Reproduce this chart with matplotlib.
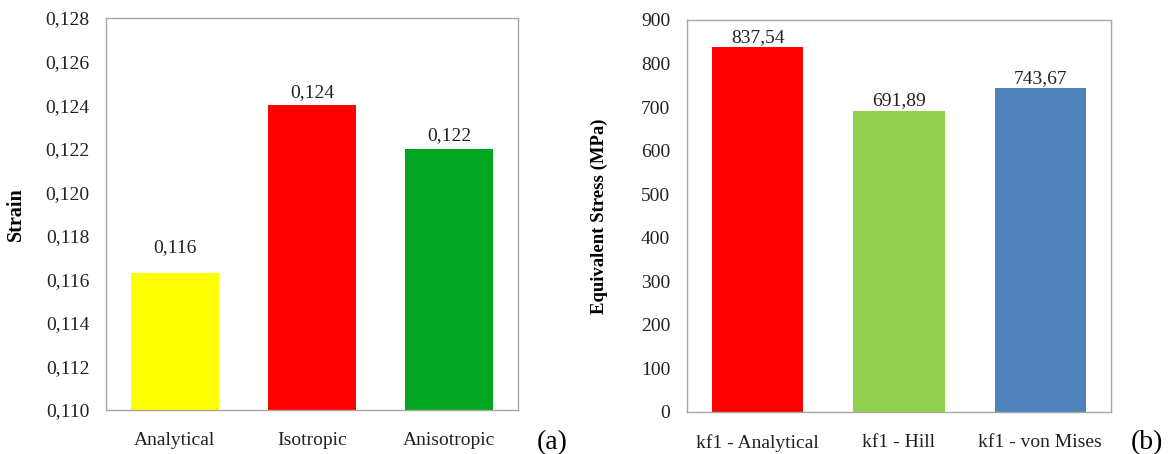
import numpy as np
import matplotlib
matplotlib.use("Agg")
from matplotlib import pyplot as plt
from matplotlib.ticker import FuncFormatter, MultipleLocator

plt.rcParams["font.family"] = ["Liberation Serif", "DejaVu Serif"]

# (a) strain
strain_labels = ["Analytical", "Isotropic", "Anisotropic"]
strain_values = [0.1163, 0.124, 0.122]
strain_colors = ["#FFFF00", "#FF0000", "#00A61E"]

# (b) equivalent stress
stress_labels = ["kf1 - Analytical", "kf1 - Hill", "kf1 - von Mises"]
stress_values = [837.54, 691.89, 743.67]
stress_colors = ["#FF0000", "#92D050", "#4F81BD"]

fig = plt.figure(figsize=(11.68, 4.54), dpi=100)
ax1 = fig.add_axes([106 / 1168, 44 / 454, 412 / 1168, 392 / 454])
ax2 = fig.add_axes([687 / 1168, 42 / 454, 424 / 1168, 392 / 454])


def comma(v, d):
    return f"{v:.{d}f}".replace(".", ",")


def style(ax):
    for s in ax.spines.values():
        s.set_color("#A6A6A6")
        s.set_linewidth(1)
    ax.tick_params(length=0, labelsize=14, colors="#222222")
    ax.tick_params(axis="y", pad=12)
    ax.tick_params(axis="x", pad=16)
    ax.set_xlim(-0.5, 2.5)


x = np.arange(len(strain_labels))
bars = ax1.bar(x, strain_values, width=0.64, color=strain_colors)
ax1.set_ylim(0.110, 0.128)
ax1.yaxis.set_major_locator(MultipleLocator(0.002))
ax1.yaxis.set_major_formatter(FuncFormatter(lambda v, p: comma(v, 3)))
ax1.set_xticks(x, strain_labels)
style(ax1)
# label offsets in points (first label sits higher in the original)
for b, v, off in zip(bars, strain_values, [12, 3, 3]):
    ax1.annotate(comma(v, 3), (b.get_x() + b.get_width() / 2, v),
                 xytext=(0, off), textcoords="offset points",
                 ha="center", va="bottom", fontsize=14, color="#222222")
ax1.set_ylabel("Strain", fontsize=14.5, fontweight="bold")
ax1.yaxis.set_label_coords(-0.194, 0.5)

x = np.arange(len(stress_labels))
bars = ax2.bar(x, stress_values, width=0.644, color=stress_colors)
ax2.set_ylim(0, 900)
ax2.yaxis.set_major_locator(MultipleLocator(100))
ax2.set_xticks(x, stress_labels)
style(ax2)
for b, v in zip(bars, stress_values):
    ax2.annotate(comma(v, 2), (b.get_x() + b.get_width() / 2, v),
                 xytext=(0, 1), textcoords="offset points",
                 ha="center", va="bottom", fontsize=14, color="#222222")
ax2.set_ylabel("Equivalent Stress (MPa)", fontsize=13.5, fontweight="bold")
ax2.yaxis.set_label_coords(-0.186, 0.5)

fig.text(552 / 1168, 1 - 443 / 454, "(a)", fontsize=20, ha="center", va="center")
fig.text(1147 / 1168, 1 - 443 / 454, "(b)", fontsize=20, ha="center", va="center")

fig.savefig("out.png", dpi=100)
